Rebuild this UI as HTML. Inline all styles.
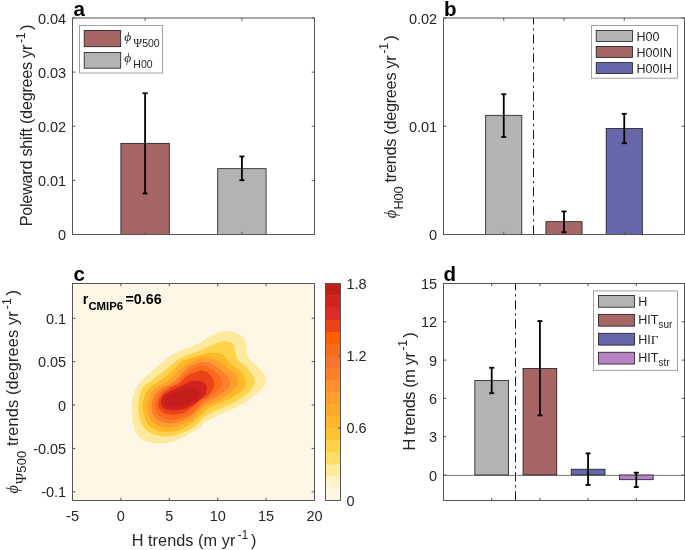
<!DOCTYPE html>
<html><head><meta charset="utf-8"><style>
html,body{margin:0;padding:0;background:#fff;}
svg{display:block;will-change:transform;}
text{font-family:"Liberation Sans",sans-serif;}
</style></head><body>
<svg width="685" height="550" viewBox="0 0 685 550">
<rect width="685" height="550" fill="#fff"/>
<rect x="120.90" y="143.35" width="48.40" height="91.15" fill="#a66666" stroke="#1a1a1a" stroke-width="0.8"/>
<rect x="217.70" y="168.68" width="48.40" height="65.82" fill="#b3b3b3" stroke="#1a1a1a" stroke-width="0.8"/>
<rect x="72.5" y="18" width="242.0" height="216.5" fill="none" stroke="#555555" stroke-width="1"/>
<line x1="145.1" y1="234.5" x2="145.1" y2="231.7" stroke="#555555" stroke-width="1" />
<line x1="145.1" y1="18" x2="145.1" y2="20.8" stroke="#555555" stroke-width="1" />
<line x1="241.89999999999998" y1="234.5" x2="241.89999999999998" y2="231.7" stroke="#555555" stroke-width="1" />
<line x1="241.89999999999998" y1="18" x2="241.89999999999998" y2="20.8" stroke="#555555" stroke-width="1" />
<line x1="72.5" y1="234.5" x2="75.3" y2="234.5" stroke="#555555" stroke-width="1" />
<line x1="314.5" y1="234.5" x2="311.7" y2="234.5" stroke="#555555" stroke-width="1" />
<line x1="72.5" y1="180.375" x2="75.3" y2="180.375" stroke="#555555" stroke-width="1" />
<line x1="314.5" y1="180.375" x2="311.7" y2="180.375" stroke="#555555" stroke-width="1" />
<line x1="72.5" y1="126.25" x2="75.3" y2="126.25" stroke="#555555" stroke-width="1" />
<line x1="314.5" y1="126.25" x2="311.7" y2="126.25" stroke="#555555" stroke-width="1" />
<line x1="72.5" y1="72.125" x2="75.3" y2="72.125" stroke="#555555" stroke-width="1" />
<line x1="314.5" y1="72.125" x2="311.7" y2="72.125" stroke="#555555" stroke-width="1" />
<line x1="72.5" y1="18.0" x2="75.3" y2="18.0" stroke="#555555" stroke-width="1" />
<line x1="314.5" y1="18.0" x2="311.7" y2="18.0" stroke="#555555" stroke-width="1" />
<text x="66.2" y="240.065" font-size="14.5" text-anchor="end" font-weight="normal" fill="#262626" >0</text>
<text x="66.2" y="185.94" font-size="14.5" text-anchor="end" font-weight="normal" fill="#262626" >0.01</text>
<text x="66.2" y="131.815" font-size="14.5" text-anchor="end" font-weight="normal" fill="#262626" >0.02</text>
<text x="66.2" y="77.69" font-size="14.5" text-anchor="end" font-weight="normal" fill="#262626" >0.03</text>
<text x="66.2" y="23.565" font-size="14.5" text-anchor="end" font-weight="normal" fill="#262626" >0.04</text>
<line x1="145.1" y1="93.23374999999999" x2="145.1" y2="193.47325" stroke="#000" stroke-width="1.8" />
<line x1="142.6" y1="93.23374999999999" x2="147.6" y2="93.23374999999999" stroke="#000" stroke-width="1.8" />
<line x1="142.6" y1="193.47325" x2="147.6" y2="193.47325" stroke="#000" stroke-width="1.8" />
<line x1="241.89999999999998" y1="156.45175" x2="241.89999999999998" y2="180.26675" stroke="#000" stroke-width="1.8" />
<line x1="239.39999999999998" y1="156.45175" x2="244.39999999999998" y2="156.45175" stroke="#000" stroke-width="1.8" />
<line x1="239.39999999999998" y1="180.26675" x2="244.39999999999998" y2="180.26675" stroke="#000" stroke-width="1.8" />
<rect x="79.5" y="25.5" width="83" height="47.5" fill="#fff" stroke="#a0a0a0" stroke-width="1"/>
<rect x="84.2" y="30.5" width="36.5" height="16.200000000000003" fill="#a66666" stroke="#1a1a1a" stroke-width="0.8"/>
<rect x="84.2" y="52.4" width="36.5" height="15.800000000000004" fill="#b3b3b3" stroke="#1a1a1a" stroke-width="0.8"/>
<text x="124.3" y="40.7" font-size="13.5" fill="#262626"><tspan font-family="Liberation Serif, serif" font-style="italic">&#x3d5;</tspan><tspan font-size="10.5" dy="6.2" dx="2"><tspan font-family="Liberation Serif, serif" font-size="12">&#x3a8;</tspan>500</tspan></text>
<text x="124.3" y="62" font-size="13.5" fill="#262626"><tspan font-family="Liberation Serif, serif" font-style="italic">&#x3d5;</tspan><tspan font-size="10.5" dy="6.1" dx="2">H00</tspan></text>
<text x="73.5" y="15.5" font-size="20.5" text-anchor="start" font-weight="bold" fill="#000" >a</text>
<text transform="translate(32.4,125.5) rotate(-90)" font-size="16.3" text-anchor="middle" fill="#262626" textLength="201.7" lengthAdjust="spacing">Poleward shift (degrees yr<tspan dy="-7.5" font-size="12.3" dx="2">-1</tspan><tspan dy="7.5" dx="2.5">)</tspan></text>
<rect x="485.68" y="115.32" width="36.15" height="119.18" fill="#b3b3b3" stroke="#1a1a1a" stroke-width="0.8"/>
<rect x="545.92" y="221.66" width="36.15" height="12.84" fill="#a66666" stroke="#1a1a1a" stroke-width="0.8"/>
<rect x="606.17" y="128.52" width="36.15" height="105.98" fill="#6666aa" stroke="#1a1a1a" stroke-width="0.8"/>
<line x1="533.5" y1="234.5" x2="533.5" y2="18" stroke="#1a1a1a" stroke-width="1" stroke-dasharray="9.2,3.8,2.2,3.9"/>
<rect x="443.5" y="18" width="241.0" height="216.5" fill="none" stroke="#555555" stroke-width="1"/>
<line x1="503.75" y1="234.5" x2="503.75" y2="231.7" stroke="#555555" stroke-width="1" />
<line x1="503.75" y1="18" x2="503.75" y2="20.8" stroke="#555555" stroke-width="1" />
<line x1="564.0" y1="234.5" x2="564.0" y2="231.7" stroke="#555555" stroke-width="1" />
<line x1="564.0" y1="18" x2="564.0" y2="20.8" stroke="#555555" stroke-width="1" />
<line x1="624.25" y1="234.5" x2="624.25" y2="231.7" stroke="#555555" stroke-width="1" />
<line x1="624.25" y1="18" x2="624.25" y2="20.8" stroke="#555555" stroke-width="1" />
<line x1="443.5" y1="234.5" x2="446.3" y2="234.5" stroke="#555555" stroke-width="1" />
<line x1="684.5" y1="234.5" x2="681.7" y2="234.5" stroke="#555555" stroke-width="1" />
<line x1="443.5" y1="126.25" x2="446.3" y2="126.25" stroke="#555555" stroke-width="1" />
<line x1="684.5" y1="126.25" x2="681.7" y2="126.25" stroke="#555555" stroke-width="1" />
<line x1="443.5" y1="18.0" x2="446.3" y2="18.0" stroke="#555555" stroke-width="1" />
<line x1="684.5" y1="18.0" x2="681.7" y2="18.0" stroke="#555555" stroke-width="1" />
<text x="437.2" y="240.065" font-size="14.5" text-anchor="end" font-weight="normal" fill="#262626" >0</text>
<text x="437.2" y="131.815" font-size="14.5" text-anchor="end" font-weight="normal" fill="#262626" >0.01</text>
<text x="437.2" y="23.565" font-size="14.5" text-anchor="end" font-weight="normal" fill="#262626" >0.02</text>
<line x1="503.75" y1="94.20800000000003" x2="503.75" y2="136.934275" stroke="#000" stroke-width="1.8" />
<line x1="501.25" y1="94.20800000000003" x2="506.25" y2="94.20800000000003" stroke="#000" stroke-width="1.8" />
<line x1="501.25" y1="136.934275" x2="506.25" y2="136.934275" stroke="#000" stroke-width="1.8" />
<line x1="564.0" y1="211.44275" x2="564.0" y2="232.194275" stroke="#000" stroke-width="1.8" />
<line x1="561.5" y1="211.44275" x2="566.5" y2="211.44275" stroke="#000" stroke-width="1.8" />
<line x1="561.5" y1="232.194275" x2="566.5" y2="232.194275" stroke="#000" stroke-width="1.8" />
<line x1="624.25" y1="113.80125" x2="624.25" y2="143.24525" stroke="#000" stroke-width="1.8" />
<line x1="621.75" y1="113.80125" x2="626.75" y2="113.80125" stroke="#000" stroke-width="1.8" />
<line x1="621.75" y1="143.24525" x2="626.75" y2="143.24525" stroke="#000" stroke-width="1.8" />
<rect x="591.5" y="25.5" width="86" height="52.7" fill="#fff" stroke="#a0a0a0" stroke-width="1"/>
<rect x="596.2" y="30.4" width="36.19999999999993" height="11.0" fill="#b3b3b3" stroke="#1a1a1a" stroke-width="0.8"/>
<text x="636.6" y="40.5" font-size="12.5" text-anchor="start" font-weight="normal" fill="#262626" >H00</text>
<rect x="596.2" y="46.5" width="36.19999999999993" height="11.0" fill="#a66666" stroke="#1a1a1a" stroke-width="0.8"/>
<text x="636.6" y="56.6" font-size="12.5" text-anchor="start" font-weight="normal" fill="#262626" >H00IN</text>
<rect x="596.2" y="62.6" width="36.19999999999993" height="10.999999999999993" fill="#6666aa" stroke="#1a1a1a" stroke-width="0.8"/>
<text x="636.6" y="72.7" font-size="12.5" text-anchor="start" font-weight="normal" fill="#262626" >H00IH</text>
<text x="444" y="16.3" font-size="20.5" text-anchor="start" font-weight="bold" fill="#000" >b</text>
<text transform="translate(395.6,126.75) rotate(-90)" font-size="16.3" text-anchor="middle" fill="#262626" textLength="182.91" lengthAdjust="spacing"><tspan font-family="Liberation Serif, serif" font-style="italic">&#x3d5;</tspan><tspan font-size="13" dy="7.6" dx="0.5">H00</tspan><tspan dy="-7.6"> trends (degrees yr</tspan><tspan dy="-7.5" font-size="12.3" dx="2">-1</tspan><tspan dy="7.5" dx="2.5">)</tspan></text>
<rect x="72.5" y="283.5" width="242.0" height="217.0" fill="#fef7e5"/>
<path d="M133.8 393.8C134.9 390.9 135.9 388.1 138.1 385.0C140.3 381.9 144.3 377.9 146.9 375.4C149.5 372.9 151.1 371.9 153.5 369.9C155.9 367.9 158.7 365.3 161.1 363.3C163.5 361.3 165.5 359.4 167.7 357.8C169.9 356.2 171.2 355.1 174.3 353.5C177.4 351.9 182.0 350.3 186.3 348.5C190.6 346.7 195.9 344.9 200.0 342.8C204.1 340.7 207.6 337.8 210.9 336.0C214.2 334.2 216.8 332.9 219.7 332.1C222.6 331.3 225.6 330.8 228.5 331.0C231.4 331.2 234.6 332.0 237.2 333.2C239.8 334.4 242.2 336.2 243.8 338.1C245.4 340.0 245.9 342.1 246.5 344.7C247.1 347.3 246.4 350.9 247.1 353.5C247.8 356.1 248.6 357.8 250.4 360.0C252.2 362.2 255.8 364.4 258.0 366.6C260.2 368.8 262.2 371.2 263.5 373.2C264.8 375.2 265.5 376.6 265.7 378.6C265.9 380.6 265.5 383.0 264.6 385.0C263.7 387.0 262.2 388.5 260.2 390.5C258.2 392.5 255.3 394.8 252.6 397.0C249.9 399.2 247.1 401.6 243.8 403.6C240.5 405.6 236.5 407.4 232.8 409.1C229.2 410.8 225.2 412.1 221.9 413.6C218.6 415.1 216.1 416.4 213.2 418.0C210.3 419.6 206.8 421.4 204.6 423.0C202.4 424.6 202.2 426.1 200.3 427.5C198.4 428.9 196.1 430.0 193.3 431.6C190.5 433.2 186.8 435.7 183.5 437.3C180.2 438.9 177.2 440.5 173.5 441.5C169.8 442.5 165.1 443.2 161.2 443.4C157.3 443.6 153.5 443.4 150.2 442.6C146.9 441.8 143.8 440.4 141.4 438.7C139.0 436.9 137.4 434.7 136.0 432.1C134.6 429.5 133.8 426.6 133.2 423.3C132.5 420.0 132.4 415.9 132.1 412.4C131.8 408.9 131.3 405.6 131.6 402.5C131.9 399.4 132.7 396.7 133.8 393.8Z" fill="#feea9e"/>
<path d="M140.3 393.8C141.4 390.7 143.0 387.0 144.7 385.0C146.3 383.0 148.0 383.5 150.2 381.9C152.4 380.3 155.2 377.4 157.8 375.4C160.4 373.4 163.1 371.7 165.5 369.9C167.9 368.1 169.9 366.2 172.1 364.4C174.3 362.6 175.6 360.6 178.7 358.9C181.8 357.2 187.1 355.4 190.7 354.0C194.2 352.6 196.6 351.9 200.0 350.5C203.4 349.1 207.2 347.3 210.9 345.8C214.6 344.3 218.8 342.0 221.9 341.4C225.0 340.8 227.6 341.3 229.6 342.0C231.6 342.7 232.9 343.9 233.9 345.8C234.9 347.7 234.9 351.1 235.6 353.5C236.3 355.9 236.6 357.8 238.3 360.0C240.0 362.2 243.8 364.4 246.0 366.6C248.2 368.8 250.1 371.0 251.5 373.2C252.9 375.4 254.2 377.7 254.7 379.7C255.1 381.7 255.1 383.0 254.2 385.0C253.3 387.0 251.4 389.4 249.3 391.6C247.2 393.8 244.5 396.1 241.6 398.1C238.7 400.1 235.1 401.9 231.8 403.6C228.5 405.3 225.2 406.6 221.9 408.1C218.6 409.6 215.0 411.4 212.1 412.8C209.2 414.2 206.6 415.3 204.6 416.7C202.6 418.1 201.8 419.7 200.3 421.2C198.8 422.7 198.1 423.9 195.5 425.7C192.9 427.5 188.3 430.4 184.6 432.0C180.9 433.6 177.0 434.7 173.5 435.4C170.0 436.1 166.8 436.5 163.5 436.4C160.2 436.3 156.5 435.7 153.6 434.6C150.7 433.5 147.8 431.9 145.8 430.0C143.8 428.1 142.5 425.9 141.4 423.3C140.3 420.7 139.8 417.9 139.2 414.6C138.6 411.3 137.9 407.1 138.1 403.6C138.3 400.1 139.2 396.9 140.3 393.8Z" fill="#fed24a"/>
<path d="M145.0 395.0C146.2 391.9 148.2 389.3 150.0 387.3C151.8 385.3 153.8 384.7 156.1 383.2C158.4 381.7 161.2 379.9 163.6 378.2C166.0 376.5 168.3 374.7 170.5 372.8C172.7 370.9 174.7 368.5 176.6 366.6C178.5 364.7 179.4 362.9 181.8 361.5C184.2 360.1 187.9 358.9 190.9 357.9C193.9 356.8 197.0 356.0 200.0 355.2C203.0 354.4 205.9 353.3 208.8 352.9C211.7 352.5 215.1 352.6 217.5 352.9C219.9 353.2 221.3 353.4 223.0 354.6C224.7 355.8 225.8 358.2 227.4 360.0C229.0 361.8 230.8 363.9 232.8 365.5C234.8 367.1 237.6 368.2 239.4 369.9C241.2 371.5 242.8 372.9 243.8 375.4C244.8 377.9 246.1 382.3 245.5 385.0C244.9 387.7 242.6 389.6 240.5 391.6C238.4 393.6 235.7 395.4 232.8 397.0C229.9 398.6 226.3 399.9 223.0 401.4C219.7 402.9 216.0 404.4 213.1 406.0C210.2 407.6 207.8 409.1 205.6 410.8C203.4 412.5 203.0 413.9 200.2 416.3C197.4 418.7 192.7 422.7 189.0 425.1C185.3 427.5 181.7 429.4 178.0 430.5C174.3 431.6 170.3 431.9 166.8 431.9C163.3 431.9 159.9 431.4 156.9 430.4C153.9 429.4 151.1 427.9 149.1 425.7C147.1 423.4 145.8 420.2 144.7 416.9C143.6 413.6 142.4 409.4 142.5 405.8C142.6 402.2 143.8 398.1 145.0 395.0Z" fill="#fdb82a"/>
<path d="M149.5 396.0C151.0 392.9 154.0 389.7 156.4 387.6C158.8 385.6 161.6 385.2 164.1 383.7C166.6 382.2 169.2 380.5 171.5 378.5C173.8 376.5 176.0 373.5 178.1 371.5C180.2 369.5 182.0 367.9 184.2 366.4C186.3 364.9 188.4 363.7 191.0 362.3C193.6 360.9 197.0 358.6 200.0 357.8C203.0 357.1 206.1 357.4 208.8 357.8C211.5 358.2 214.2 359.1 216.4 360.0C218.6 360.9 219.9 361.8 221.9 363.3C223.9 364.8 226.3 367.0 228.5 368.8C230.7 370.6 233.4 372.5 235.0 374.3C236.6 376.1 237.4 377.9 237.8 379.7C238.2 381.5 238.5 383.0 237.5 385.0C236.5 387.0 234.0 389.6 231.8 391.6C229.6 393.6 226.8 395.4 224.1 397.0C221.3 398.6 218.2 399.9 215.3 401.4C212.4 402.9 209.1 404.6 206.6 406.0C204.1 407.4 202.3 408.0 200.1 410.1C197.8 412.2 196.1 416.2 193.1 418.6C190.1 421.0 185.8 422.7 182.2 424.2C178.5 425.7 174.7 427.2 171.2 427.6C167.7 428.0 164.1 427.7 161.2 426.8C158.2 425.9 155.5 424.3 153.5 422.5C151.5 420.7 150.1 418.7 149.1 415.9C148.1 413.1 147.4 409.2 147.5 405.9C147.6 402.6 148.0 399.1 149.5 396.0Z" fill="#fd9e2e"/>
<path d="M154.2 396.2C155.9 393.2 158.8 390.0 161.6 388.0C164.3 386.0 168.2 385.4 170.7 384.0C173.1 382.6 174.4 381.2 176.3 379.4C178.2 377.6 180.4 375.2 182.2 373.4C184.0 371.5 185.3 369.7 187.0 368.3C188.7 366.9 190.1 366.1 192.3 365.1C194.5 364.1 197.3 362.6 200.1 362.2C202.8 361.8 206.1 362.1 208.8 362.8C211.5 363.5 214.2 365.2 216.4 366.6C218.6 368.0 220.1 369.4 221.9 371.0C223.7 372.6 226.0 374.2 227.4 376.5C228.8 378.8 230.7 382.5 230.1 385.0C229.5 387.5 226.4 389.6 224.1 391.6C221.8 393.6 219.1 395.4 216.4 397.0C213.7 398.6 210.4 399.8 207.7 401.5C205.0 403.2 203.3 404.8 200.1 407.4C196.9 410.0 192.4 414.9 188.7 417.3C185.0 419.7 181.4 421.0 177.9 422.0C174.4 423.0 171.0 423.7 167.9 423.5C164.8 423.3 161.5 422.0 159.1 420.6C156.7 419.2 154.8 417.3 153.5 414.9C152.2 412.4 151.3 409.0 151.4 405.9C151.5 402.8 152.5 399.2 154.2 396.2Z" fill="#fa802e"/>
<path d="M157.8 396.3C159.5 393.5 162.2 390.2 165.2 388.1C168.2 386.0 173.1 385.5 175.8 383.9C178.5 382.3 179.5 380.3 181.2 378.6C182.8 376.9 183.8 375.2 185.7 373.6C187.6 372.0 190.1 370.4 192.5 369.0C194.9 367.6 197.6 365.8 200.1 365.5C202.6 365.2 205.2 366.1 207.7 367.2C210.2 368.3 213.1 370.4 215.3 372.1C217.5 373.8 219.7 375.5 220.8 377.6C221.9 379.8 222.6 382.7 221.9 385.0C221.2 387.3 218.4 389.6 216.4 391.6C214.4 393.6 212.3 395.4 209.9 397.1C207.5 398.8 203.8 400.5 202.2 401.6C200.6 402.8 201.6 402.2 200.1 404.0C198.6 405.8 196.1 410.1 193.1 412.4C190.1 414.7 185.8 416.3 182.2 417.6C178.5 418.9 174.5 420.0 171.2 420.0C167.9 420.0 164.7 418.9 162.3 417.7C159.9 416.5 158.2 414.9 156.9 412.8C155.7 410.7 154.7 407.8 154.8 405.0C155.0 402.2 156.1 399.1 157.8 396.3Z" fill="#fc6a1c"/>
<path d="M161.3 395.3C163.3 392.7 167.0 390.1 170.0 388.1C173.0 386.2 176.5 385.4 179.1 383.6C181.7 381.8 183.9 378.7 185.8 377.1C187.8 375.5 189.2 374.6 190.8 373.8C192.4 373.1 193.8 373.2 195.3 372.6C196.9 372.1 198.2 370.6 200.1 370.5C202.0 370.4 204.6 370.9 206.6 372.1C208.6 373.3 210.7 375.5 212.0 377.6C213.3 379.8 214.5 382.5 214.2 385.0C213.9 387.5 212.0 390.5 210.4 392.7C208.8 394.9 206.1 396.8 204.4 398.1C202.7 399.4 203.0 398.0 200.0 400.3C197.0 402.6 190.4 409.4 186.3 411.8C182.2 414.2 178.7 414.2 175.4 414.6C172.1 415.0 169.2 414.7 166.6 414.0C164.0 413.3 161.5 411.9 160.1 410.2C158.7 408.5 157.9 406.2 158.1 403.7C158.3 401.2 159.3 397.9 161.3 395.3Z" fill="#ec4418"/>
<path d="M164.8 394.3C166.5 392.8 169.1 391.8 172.0 390.3C174.9 388.8 179.4 386.9 182.5 385.4C185.6 383.9 188.4 382.2 190.5 381.4C192.6 380.6 193.2 380.5 195.3 380.6C197.5 380.7 201.5 381.1 203.4 382.2C205.3 383.3 206.2 385.2 206.6 387.0C207.0 388.8 206.6 390.8 205.8 392.7C205.0 394.6 203.6 396.6 201.8 398.3C200.1 400.0 197.9 401.5 195.3 403.1C192.8 404.7 189.7 406.7 186.5 407.9C183.3 409.1 179.4 410.0 176.1 410.3C172.8 410.6 168.8 410.3 166.4 409.5C164.0 408.7 162.4 407.2 161.6 405.5C160.8 403.8 161.1 401.0 161.6 399.1C162.1 397.2 163.1 395.8 164.8 394.3Z" fill="#d02220"/>
<path d="M168.8 395.1C170.6 393.9 173.6 392.9 176.1 391.9C178.6 390.9 181.4 389.8 184.1 389.1C186.8 388.4 189.8 387.7 192.1 387.9C194.4 388.1 196.6 389.2 197.8 390.3C199.0 391.4 199.7 392.8 199.4 394.3C199.1 395.8 197.8 397.6 196.1 399.1C194.3 400.6 191.7 401.8 188.9 403.1C186.1 404.4 182.2 406.4 179.3 407.1C176.4 407.8 173.5 407.5 171.2 407.1C168.9 406.7 166.5 406.0 165.6 404.7C164.7 403.4 165.1 400.7 165.6 399.1C166.1 397.5 167.1 396.3 168.8 395.1Z" fill="#c41e1a"/>
<rect x="72.5" y="283.5" width="242.0" height="217.0" fill="none" stroke="#555555" stroke-width="1"/>
<line x1="72.5" y1="500.5" x2="72.5" y2="497.7" stroke="#555555" stroke-width="1" />
<line x1="72.5" y1="283.5" x2="72.5" y2="286.3" stroke="#555555" stroke-width="1" />
<line x1="120.9" y1="500.5" x2="120.9" y2="497.7" stroke="#555555" stroke-width="1" />
<line x1="120.9" y1="283.5" x2="120.9" y2="286.3" stroke="#555555" stroke-width="1" />
<line x1="169.3" y1="500.5" x2="169.3" y2="497.7" stroke="#555555" stroke-width="1" />
<line x1="169.3" y1="283.5" x2="169.3" y2="286.3" stroke="#555555" stroke-width="1" />
<line x1="217.7" y1="500.5" x2="217.7" y2="497.7" stroke="#555555" stroke-width="1" />
<line x1="217.7" y1="283.5" x2="217.7" y2="286.3" stroke="#555555" stroke-width="1" />
<line x1="266.1" y1="500.5" x2="266.1" y2="497.7" stroke="#555555" stroke-width="1" />
<line x1="266.1" y1="283.5" x2="266.1" y2="286.3" stroke="#555555" stroke-width="1" />
<line x1="314.5" y1="500.5" x2="314.5" y2="497.7" stroke="#555555" stroke-width="1" />
<line x1="314.5" y1="283.5" x2="314.5" y2="286.3" stroke="#555555" stroke-width="1" />
<line x1="72.5" y1="491.82" x2="75.3" y2="491.82" stroke="#555555" stroke-width="1" />
<line x1="314.5" y1="491.82" x2="311.7" y2="491.82" stroke="#555555" stroke-width="1" />
<line x1="72.5" y1="448.42" x2="75.3" y2="448.42" stroke="#555555" stroke-width="1" />
<line x1="314.5" y1="448.42" x2="311.7" y2="448.42" stroke="#555555" stroke-width="1" />
<line x1="72.5" y1="405.02" x2="75.3" y2="405.02" stroke="#555555" stroke-width="1" />
<line x1="314.5" y1="405.02" x2="311.7" y2="405.02" stroke="#555555" stroke-width="1" />
<line x1="72.5" y1="361.62" x2="75.3" y2="361.62" stroke="#555555" stroke-width="1" />
<line x1="314.5" y1="361.62" x2="311.7" y2="361.62" stroke="#555555" stroke-width="1" />
<line x1="72.5" y1="318.21999999999997" x2="75.3" y2="318.21999999999997" stroke="#555555" stroke-width="1" />
<line x1="314.5" y1="318.21999999999997" x2="311.7" y2="318.21999999999997" stroke="#555555" stroke-width="1" />
<text x="66.2" y="497.385" font-size="14.5" text-anchor="end" font-weight="normal" fill="#262626" >-0.1</text>
<text x="66.2" y="453.985" font-size="14.5" text-anchor="end" font-weight="normal" fill="#262626" >-0.05</text>
<text x="66.2" y="410.585" font-size="14.5" text-anchor="end" font-weight="normal" fill="#262626" >0</text>
<text x="66.2" y="367.185" font-size="14.5" text-anchor="end" font-weight="normal" fill="#262626" >0.05</text>
<text x="66.2" y="323.78499999999997" font-size="14.5" text-anchor="end" font-weight="normal" fill="#262626" >0.1</text>
<text x="72.5" y="520.9" font-size="14.5" text-anchor="middle" font-weight="normal" fill="#262626" >-5</text>
<text x="120.9" y="520.9" font-size="14.5" text-anchor="middle" font-weight="normal" fill="#262626" >0</text>
<text x="169.3" y="520.9" font-size="14.5" text-anchor="middle" font-weight="normal" fill="#262626" >5</text>
<text x="217.7" y="520.9" font-size="14.5" text-anchor="middle" font-weight="normal" fill="#262626" >10</text>
<text x="266.1" y="520.9" font-size="14.5" text-anchor="middle" font-weight="normal" fill="#262626" >15</text>
<text x="314.5" y="520.9" font-size="14.5" text-anchor="middle" font-weight="normal" fill="#262626" >20</text>
<text x="73.5" y="281.3" font-size="20.5" text-anchor="start" font-weight="bold" fill="#000" >c</text>
<text x="82.8" y="303.5" font-size="14.3" font-weight="bold" fill="#000">r<tspan font-size="11.4" dy="6.5">CMIP6</tspan><tspan dy="-6.5" dx="2.3">=0.66</tspan></text>
<text transform="translate(18.2,391.75) rotate(-90)" font-size="16.3" text-anchor="middle" fill="#262626" textLength="203.43" lengthAdjust="spacing"><tspan font-family="Liberation Serif, serif" font-style="italic">&#x3d5;</tspan><tspan font-size="13" dy="7.6" dx="1"><tspan font-family="Liberation Serif, serif" font-size="15">&#x3a8;</tspan>500</tspan><tspan dy="-7.6"> trends (degrees yr</tspan><tspan dy="-7.5" font-size="12.3" dx="2">-1</tspan><tspan dy="7.5" dx="2.5">)</tspan></text>
<text x="194.0" y="546.3" font-size="16.3" text-anchor="middle" fill="#262626" textLength="124.7" lengthAdjust="spacing">H trends (m yr<tspan dy="-7.5" font-size="12.3" dx="2">-1</tspan><tspan dy="7.5" dx="2.5">)</tspan></text>
<rect x="325.5" y="488.44" width="15.0" height="12.36" fill="#fef7e5"/>
<rect x="325.5" y="476.39" width="15.0" height="12.36" fill="#fdf2cc"/>
<rect x="325.5" y="464.33" width="15.0" height="12.36" fill="#feea9e"/>
<rect x="325.5" y="452.28" width="15.0" height="12.36" fill="#fede66"/>
<rect x="325.5" y="440.22" width="15.0" height="12.36" fill="#fed24a"/>
<rect x="325.5" y="428.17" width="15.0" height="12.36" fill="#fec42e"/>
<rect x="325.5" y="416.11" width="15.0" height="12.36" fill="#fdb82a"/>
<rect x="325.5" y="404.06" width="15.0" height="12.36" fill="#fdaa2c"/>
<rect x="325.5" y="392.00" width="15.0" height="12.36" fill="#fd9e2e"/>
<rect x="325.5" y="379.94" width="15.0" height="12.36" fill="#fc902e"/>
<rect x="325.5" y="367.89" width="15.0" height="12.36" fill="#fa802e"/>
<rect x="325.5" y="355.83" width="15.0" height="12.36" fill="#f97230"/>
<rect x="325.5" y="343.78" width="15.0" height="12.36" fill="#fc6a1c"/>
<rect x="325.5" y="331.72" width="15.0" height="12.36" fill="#fe5f00"/>
<rect x="325.5" y="319.67" width="15.0" height="12.36" fill="#ec4418"/>
<rect x="325.5" y="307.61" width="15.0" height="12.36" fill="#dc2a26"/>
<rect x="325.5" y="295.56" width="15.0" height="12.36" fill="#d02220"/>
<rect x="325.5" y="283.50" width="15.0" height="12.36" fill="#c41e1a"/>
<rect x="325.5" y="283.5" width="15.0" height="217.0" fill="none" stroke="#555555" stroke-width="1"/>
<line x1="340.5" y1="500.5" x2="338.0" y2="500.5" stroke="#555555" stroke-width="1" />
<text x="346.5" y="505.8" font-size="14.5" text-anchor="start" font-weight="normal" fill="#262626" >0</text>
<line x1="340.5" y1="428.1666666666667" x2="338.0" y2="428.1666666666667" stroke="#555555" stroke-width="1" />
<text x="346.5" y="433.4666666666667" font-size="14.5" text-anchor="start" font-weight="normal" fill="#262626" >0.6</text>
<line x1="340.5" y1="355.83333333333337" x2="338.0" y2="355.83333333333337" stroke="#555555" stroke-width="1" />
<text x="346.5" y="361.1333333333334" font-size="14.5" text-anchor="start" font-weight="normal" fill="#262626" >1.2</text>
<line x1="340.5" y1="283.5" x2="338.0" y2="283.5" stroke="#555555" stroke-width="1" />
<text x="346.5" y="288.8" font-size="14.5" text-anchor="start" font-weight="normal" fill="#262626" >1.8</text>
<line x1="443.5" y1="475.4" x2="684.5" y2="475.4" stroke="#7a7a7a" stroke-width="1" />
<rect x="474.83" y="380.51" width="33.74" height="94.46" fill="#b3b3b3" stroke="#1a1a1a" stroke-width="0.8"/>
<rect x="523.03" y="368.39" width="33.74" height="106.59" fill="#a66666" stroke="#1a1a1a" stroke-width="0.8"/>
<rect x="571.23" y="469.23" width="33.74" height="5.74" fill="#6666aa" stroke="#1a1a1a" stroke-width="0.8"/>
<rect x="619.43" y="474.97" width="33.74" height="4.72" fill="#b783c4" stroke="#1a1a1a" stroke-width="0.8"/>
<line x1="515.5" y1="500.5" x2="515.5" y2="283.5" stroke="#1a1a1a" stroke-width="1" stroke-dasharray="9.2,3.8,2.2,3.9"/>
<rect x="443.5" y="283.5" width="241.0" height="217.0" fill="none" stroke="#555555" stroke-width="1"/>
<line x1="491.7" y1="500.5" x2="491.7" y2="497.7" stroke="#555555" stroke-width="1" />
<line x1="491.7" y1="283.5" x2="491.7" y2="286.3" stroke="#555555" stroke-width="1" />
<line x1="539.9" y1="500.5" x2="539.9" y2="497.7" stroke="#555555" stroke-width="1" />
<line x1="539.9" y1="283.5" x2="539.9" y2="286.3" stroke="#555555" stroke-width="1" />
<line x1="588.1" y1="500.5" x2="588.1" y2="497.7" stroke="#555555" stroke-width="1" />
<line x1="588.1" y1="283.5" x2="588.1" y2="286.3" stroke="#555555" stroke-width="1" />
<line x1="636.3" y1="500.5" x2="636.3" y2="497.7" stroke="#555555" stroke-width="1" />
<line x1="636.3" y1="283.5" x2="636.3" y2="286.3" stroke="#555555" stroke-width="1" />
<line x1="443.5" y1="474.97058823529414" x2="446.3" y2="474.97058823529414" stroke="#555555" stroke-width="1" />
<line x1="684.5" y1="474.97058823529414" x2="681.7" y2="474.97058823529414" stroke="#555555" stroke-width="1" />
<line x1="443.5" y1="436.6764705882353" x2="446.3" y2="436.6764705882353" stroke="#555555" stroke-width="1" />
<line x1="684.5" y1="436.6764705882353" x2="681.7" y2="436.6764705882353" stroke="#555555" stroke-width="1" />
<line x1="443.5" y1="398.38235294117646" x2="446.3" y2="398.38235294117646" stroke="#555555" stroke-width="1" />
<line x1="684.5" y1="398.38235294117646" x2="681.7" y2="398.38235294117646" stroke="#555555" stroke-width="1" />
<line x1="443.5" y1="360.0882352941177" x2="446.3" y2="360.0882352941177" stroke="#555555" stroke-width="1" />
<line x1="684.5" y1="360.0882352941177" x2="681.7" y2="360.0882352941177" stroke="#555555" stroke-width="1" />
<line x1="443.5" y1="321.79411764705884" x2="446.3" y2="321.79411764705884" stroke="#555555" stroke-width="1" />
<line x1="684.5" y1="321.79411764705884" x2="681.7" y2="321.79411764705884" stroke="#555555" stroke-width="1" />
<line x1="443.5" y1="283.5" x2="446.3" y2="283.5" stroke="#555555" stroke-width="1" />
<line x1="684.5" y1="283.5" x2="681.7" y2="283.5" stroke="#555555" stroke-width="1" />
<text x="437.2" y="480.53558823529414" font-size="14.5" text-anchor="end" font-weight="normal" fill="#262626" >0</text>
<text x="437.2" y="442.2414705882353" font-size="14.5" text-anchor="end" font-weight="normal" fill="#262626" >3</text>
<text x="437.2" y="403.94735294117646" font-size="14.5" text-anchor="end" font-weight="normal" fill="#262626" >6</text>
<text x="437.2" y="365.6532352941177" font-size="14.5" text-anchor="end" font-weight="normal" fill="#262626" >9</text>
<text x="437.2" y="327.35911764705884" font-size="14.5" text-anchor="end" font-weight="normal" fill="#262626" >12</text>
<text x="437.2" y="289.065" font-size="14.5" text-anchor="end" font-weight="normal" fill="#262626" >15</text>
<line x1="491.7" y1="367.7470588235294" x2="491.7" y2="393.27647058823527" stroke="#000" stroke-width="1.8" />
<line x1="489.2" y1="367.7470588235294" x2="494.2" y2="367.7470588235294" stroke="#000" stroke-width="1.8" />
<line x1="489.2" y1="393.27647058823527" x2="494.2" y2="393.27647058823527" stroke="#000" stroke-width="1.8" />
<line x1="539.9" y1="321.0282352941176" x2="539.9" y2="415.3594117647059" stroke="#000" stroke-width="1.8" />
<line x1="537.4" y1="321.0282352941176" x2="542.4" y2="321.0282352941176" stroke="#000" stroke-width="1.8" />
<line x1="537.4" y1="415.3594117647059" x2="542.4" y2="415.3594117647059" stroke="#000" stroke-width="1.8" />
<line x1="588.1" y1="453.3982352941176" x2="588.1" y2="484.9270588235294" stroke="#000" stroke-width="1.8" />
<line x1="585.6" y1="453.3982352941176" x2="590.6" y2="453.3982352941176" stroke="#000" stroke-width="1.8" />
<line x1="585.6" y1="484.9270588235294" x2="590.6" y2="484.9270588235294" stroke="#000" stroke-width="1.8" />
<line x1="636.3" y1="472.6729411764706" x2="636.3" y2="487.09705882352944" stroke="#000" stroke-width="1.8" />
<line x1="633.8" y1="472.6729411764706" x2="638.8" y2="472.6729411764706" stroke="#000" stroke-width="1.8" />
<line x1="633.8" y1="487.09705882352944" x2="638.8" y2="487.09705882352944" stroke="#000" stroke-width="1.8" />
<rect x="593.5" y="290.9" width="84" height="79.5" fill="#fff" stroke="#a0a0a0" stroke-width="1"/>
<rect x="598.5" y="295.4" width="36.0" height="11.800000000000011" fill="#b3b3b3" stroke="#1a1a1a" stroke-width="0.8"/>
<text x="638.3" y="305.9" font-size="12.5" text-anchor="start" font-weight="normal" fill="#262626" >H</text>
<rect x="598.5" y="314.34999999999997" width="36.0" height="11.800000000000011" fill="#a66666" stroke="#1a1a1a" stroke-width="0.8"/>
<text x="638.3" y="323.95" font-size="12.5" text-anchor="start" font-weight="normal" fill="#262626" >HIT<tspan font-size="10" dy="4">sur</tspan></text>
<rect x="598.5" y="333.29999999999995" width="36.0" height="11.800000000000011" fill="#6666aa" stroke="#1a1a1a" stroke-width="0.8"/>
<text x="638.3" y="343.79999999999995" font-size="12.5" text-anchor="start" font-weight="normal" fill="#262626" >HI<tspan font-family="Liberation Serif, serif" font-size="13.5">&#x393;</tspan></text>
<rect x="598.5" y="352.25" width="36.0" height="11.800000000000011" fill="#b783c4" stroke="#1a1a1a" stroke-width="0.8"/>
<text x="638.3" y="361.85" font-size="12.5" text-anchor="start" font-weight="normal" fill="#262626" >HIT<tspan font-size="10" dy="4">str</tspan></text>
<text x="443.5" y="281.3" font-size="20.5" text-anchor="start" font-weight="bold" fill="#000" >d</text>
<text transform="translate(414.6,391.45) rotate(-90)" font-size="16.3" text-anchor="middle" fill="#262626" textLength="118.1" lengthAdjust="spacing">H trends (m yr<tspan dy="-7.5" font-size="12.3" dx="2">-1</tspan><tspan dy="7.5" dx="2.5">)</tspan></text>
</svg></body></html>
